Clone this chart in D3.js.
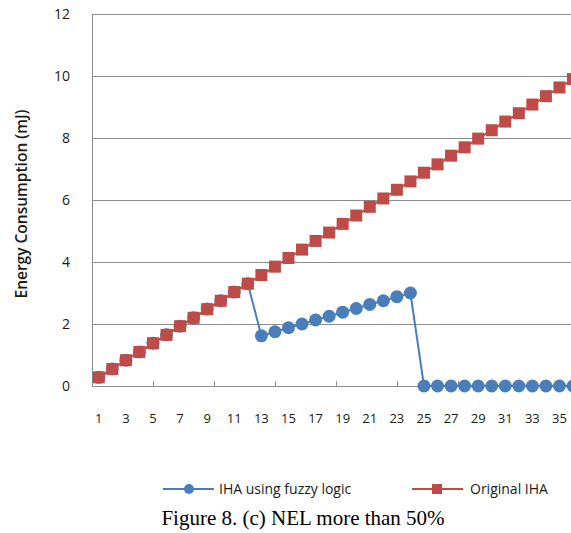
<!DOCTYPE html>
<html>
<head>
<meta charset="utf-8">
<script src="https://cdn.jsdelivr.net/npm/d3@7"></script>
<style>
	body { margin: 0; background: #ffffff; }
	svg { display: block; }
</style>
</head>
<body>
<div id="wrapper"></div>
<script>
// x categories 1..36
const categories = [1,2,3,4,5,6,7,8,9,10,11,12,13,14,15,16,17,18,19,20,21,22,23,24,25,26,27,28,29,30,31,32,33,34,35,36];
const fuzzyValues = [0.28,0.55,0.83,1.1,1.38,1.65,1.93,2.2,2.48,2.75,3.03,3.3,1.62,1.75,1.88,2.0,2.13,2.25,2.38,2.5,2.63,2.75,2.88,3.0,0,0,0,0,0,0,0,0,0,0,0,0];
const originalValues = [0.28,0.55,0.83,1.1,1.38,1.65,1.93,2.2,2.48,2.75,3.03,3.3,3.58,3.85,4.13,4.4,4.68,4.95,5.23,5.5,5.78,6.05,6.33,6.6,6.88,7.15,7.43,7.7,7.98,8.25,8.53,8.8,9.08,9.35,9.63,9.9];
const yTicks = [0,2,4,6,8,10,12];
const xTickLabels = [1,3,5,7,9,11,13,15,17,19,21,23,25,27,29,31,33,35];
const seriesNames = ["IHA using fuzzy logic", "Original IHA"];

function drawChart() {
	const dimensions = {
		width: 571,
		height: 533,
		margin: { top: 14, left: 92, bottom: 147 }
	};
	const plotBottom = dimensions.height - dimensions.margin.bottom;

	const svg = d3.select("#wrapper").append("svg")
		.attr("width", dimensions.width)
		.attr("height", dimensions.height);

	const xScale = d3.scaleLinear()
		.domain([0.5, 36.5])
		.range([dimensions.margin.left, dimensions.margin.left + 36 * 13.55]);

	const yScale = d3.scaleLinear()
		.domain([0, 12])
		.range([plotBottom, dimensions.margin.top]);

	// gridlines
	svg.append("g")
		.selectAll("line")
		.data(yTicks)
		.join("line")
		.attr("x1", dimensions.margin.left)
		.attr("x2", dimensions.width)
		.attr("y1", d => Math.round(yScale(d)) + 0.5)
		.attr("y2", d => Math.round(yScale(d)) + 0.5)
		.attr("stroke", "#8c8c8c")
		.attr("stroke-width", 1);

	// left axis line
	svg.append("line")
		.attr("x1", dimensions.margin.left + 0.5)
		.attr("x2", dimensions.margin.left + 0.5)
		.attr("y1", yScale(12))
		.attr("y2", yScale(0))
		.attr("stroke", "#8c8c8c");

	// y tick labels
	svg.append("g")
		.selectAll("text")
		.data(yTicks)
		.join("text")
		.attr("x", 70)
		.attr("y", d => yScale(d))
		.attr("dy", "0.35em")
		.attr("text-anchor", "end")
		.attr("font-family", "Open Sans")
		.attr("font-size", 14)
		.attr("fill", "#1a1a1a")
		.text(d => d);

	// x tick marks (inside)
	const tickPositions = d3.range(0.5, 37, 4.5);
	svg.append("g")
		.selectAll("line")
		.data(tickPositions)
		.join("line")
		.attr("x1", d => Math.round(xScale(d)) + 0.5)
		.attr("x2", d => Math.round(xScale(d)) + 0.5)
		.attr("y1", plotBottom - 5)
		.attr("y2", plotBottom)
		.attr("stroke", "#8c8c8c");

	// x tick labels
	svg.append("g")
		.selectAll("text")
		.data(xTickLabels)
		.join("text")
		.attr("x", d => xScale(d))
		.attr("y", 418)
		.attr("dy", "0.35em")
		.attr("text-anchor", "middle")
		.attr("font-family", "Open Sans")
		.attr("font-size", 13)
		.attr("fill", "#1a1a1a")
		.text(d => d);

	// y title
	svg.append("text")
		.attr("transform", "translate(22, 204) rotate(-90)")
		.attr("text-anchor", "middle")
		.attr("dy", "0.35em")
		.attr("font-family", "Open Sans")
		.attr("font-weight", 600)
		.attr("font-size", 15.5)
		.attr("fill", "#1a1a1a")
		.text("Energy Consumption (mJ)");

	const lineGenerator = d3.line()
		.x((d, i) => xScale(categories[i]))
		.y(d => yScale(d));

	// fuzzy series
	svg.append("path")
		.attr("d", lineGenerator(fuzzyValues))
		.attr("fill", "none")
		.attr("stroke", "#4a7ebb")
		.attr("stroke-width", 2);

	svg.append("g")
		.selectAll("circle")
		.data(fuzzyValues)
		.join("circle")
		.attr("cx", (d, i) => xScale(categories[i]))
		.attr("cy", d => yScale(d))
		.attr("r", 6.5)
		.attr("fill", "#4a7ebb");

	// original series
	svg.append("path")
		.attr("d", lineGenerator(originalValues))
		.attr("fill", "none")
		.attr("stroke", "#be4b48")
		.attr("stroke-width", 2);

	svg.append("g")
		.selectAll("rect")
		.data(originalValues)
		.join("rect")
		.attr("x", (d, i) => xScale(categories[i]) - 6)
		.attr("y", d => yScale(d) - 6)
		.attr("width", 12)
		.attr("height", 12)
		.attr("fill", "#be4b48");

	// legend
	const legend = svg.append("g").attr("font-family", "Open Sans").attr("font-size", 14).attr("fill", "#1a1a1a");
	const legendY = 489;

	legend.append("line")
		.attr("x1", 163).attr("x2", 214)
		.attr("y1", legendY).attr("y2", legendY)
		.attr("stroke", "#4a7ebb").attr("stroke-width", 2);
	legend.append("circle")
		.attr("cx", 189).attr("cy", legendY).attr("r", 5)
		.attr("fill", "#4a7ebb");
	legend.append("text")
		.attr("x", 219).attr("y", legendY).attr("dy", "0.35em")
		.text(seriesNames[0]);

	legend.append("line")
		.attr("x1", 412).attr("x2", 463)
		.attr("y1", legendY).attr("y2", legendY)
		.attr("stroke", "#be4b48").attr("stroke-width", 2);
	legend.append("rect")
		.attr("x", 432).attr("y", legendY - 5).attr("width", 10).attr("height", 10)
		.attr("fill", "#be4b48");
	legend.append("text")
		.attr("x", 470).attr("y", legendY).attr("dy", "0.35em")
		.text(seriesNames[1]);

	// caption
	svg.append("text")
		.attr("x", 303)
		.attr("y", 525)
		.attr("text-anchor", "middle")
		.attr("font-family", "Liberation Serif")
		.attr("font-size", 21)
		.attr("fill", "#000000")
		.text("Figure 8. (c) NEL more than 50%");
}

drawChart();
</script>
</body>
</html>
